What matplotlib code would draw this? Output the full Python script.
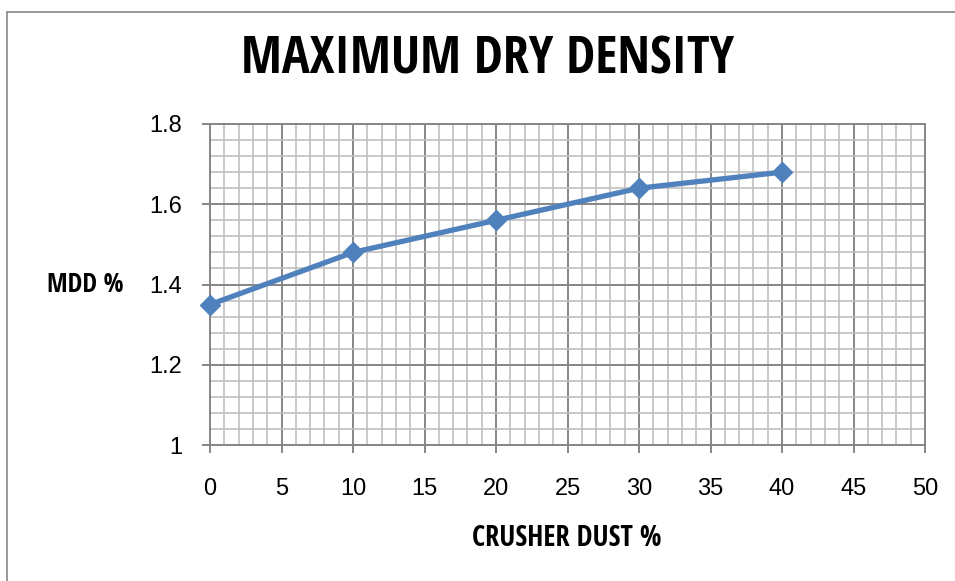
import matplotlib
matplotlib.use("Agg")
import matplotlib.pyplot as plt
from matplotlib.patches import Rectangle
from matplotlib.ticker import MultipleLocator

# data
crusher_dust = [0, 10, 20, 30, 40]
mdd = [1.35, 1.48, 1.56, 1.64, 1.68]
y_ticks = [1, 1.2, 1.4, 1.6, 1.8]
y_tick_labels = ["1", "1.2", "1.4", "1.6", "1.8"]

narrow = ["Open Sans Condensed", "PT Sans Narrow", "DejaVu Sans"]
tick_font = ["Liberation Sans", "DejaVu Sans"]

fig = plt.figure(figsize=(9.55, 5.81), dpi=100)
ax = fig.add_axes([210/955, 1 - 445/581, 715/955, 321/581])

# outer chart border
fig.patches.append(Rectangle((7/955, -0.1), 1.2, 1 - 12/581 + 0.1, transform=fig.transFigure,
                             fill=False, edgecolor="#888888", linewidth=1.2))

ax.plot(crusher_dust, mdd, color="#4F81BD", linewidth=3.8, marker="D",
        markersize=10, zorder=5, clip_on=False)

ax.set_xlim(0, 50)
ax.set_ylim(1, 1.8)
ax.xaxis.set_major_locator(MultipleLocator(5))
ax.xaxis.set_minor_locator(MultipleLocator(1))
ax.yaxis.set_minor_locator(MultipleLocator(0.04))
ax.set_yticks(y_ticks)
ax.set_yticklabels(y_tick_labels)

ax.grid(which="minor", color="#c0c0c0", linewidth=1.2)
ax.grid(which="major", color="#868686", linewidth=1.4)
ax.set_axisbelow(True)
for s in ax.spines.values():
    s.set_color("#868686")
    s.set_linewidth(1.4)

ax.tick_params(which="minor", length=0)
ax.tick_params(which="major", length=6, width=1.4, color="#868686",
               labelsize=17)
ax.tick_params(axis="x", pad=18)
ax.tick_params(axis="y", pad=14)
for lab in ax.get_xticklabels() + ax.get_yticklabels():
    lab.set_fontfamily(tick_font)

fig.text(488/955, 1 - 60/581, "MAXIMUM DRY DENSITY", ha="center", va="center",
         fontsize=37.5, fontweight="bold", family=narrow)
fig.text(85/955, 1 - 285/581, "MDD %", ha="center", va="center",
         fontsize=19, fontweight="bold", family=narrow)
fig.text(567/955, 1 - 538/581, "CRUSHER DUST %", ha="center", va="center",
         fontsize=20.5, fontweight="bold", family=narrow)

fig.savefig("out.png", dpi=100)
